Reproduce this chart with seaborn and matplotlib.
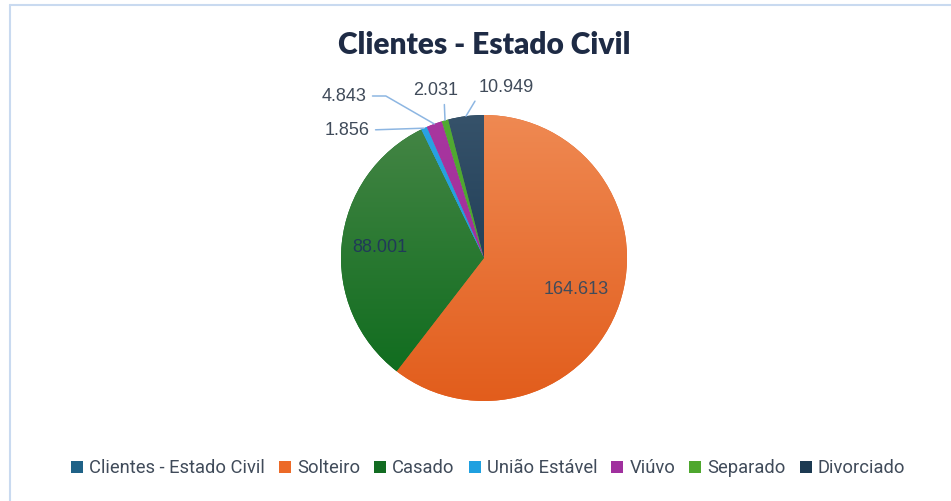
import numpy as np
import matplotlib
matplotlib.use("Agg")
import matplotlib.pyplot as plt
import seaborn as sns
from matplotlib.colors import LinearSegmentedColormap
from matplotlib.lines import Line2D

# ---- data ----
title = "Clientes - Estado Civil"
categories = ["Solteiro", "Casado", "União Estável", "Viúvo", "Separado", "Divorciado"]
values = [164613, 88001, 1856, 4843, 2031, 10949]
value_labels = ["164.613", "88.001", "1.856", "4.843", "2.031", "10.949"]
legend_first = "Clientes - Estado Civil"

# ---- style ----
top_colors = ["#EF8952", "#468646", "#2AA3E3", "#A8369F", "#52AA32", "#36526A"]
bottom_colors = ["#E25D1C", "#0B6A1B", "#1B95D6", "#9B2C98", "#47A02A", "#0F2F48"]
legend_colors = ["#1F6287", "#EC6A28", "#126C22", "#1FA0E0", "#A0309E", "#4EA72E", "#1C3A52"]

sns.set_theme(style="white")
plt.rcParams["font.family"] = ["Liberation Sans", "DejaVu Sans"]

W, H = 951, 501
fig = plt.figure(figsize=(W / 100, H / 100), dpi=100)
fig.patch.set_facecolor("white")

cx, cy, R = 484, 258, 143
ax = fig.add_axes([(cx - R) / W, (H - cy - R) / H, 2 * R / W, 2 * R / H])
ax.set_axis_off()

wedges, _ = ax.pie(values, colors=bottom_colors, startangle=90, counterclock=False,
                   radius=1, wedgeprops=dict(linewidth=0))
grad = np.linspace(0, 1, 256).reshape(-1, 1)
for w, c_top, c_bot in zip(wedges, top_colors, bottom_colors):
    cmap = LinearSegmentedColormap.from_list("g", [c_bot, c_top])
    im = ax.imshow(grad, extent=(-1, 1, -1, 1), origin="lower", cmap=cmap,
                   aspect="auto", zorder=w.get_zorder() + 0.1)
    im.set_clip_path(w)
ax.set_xlim(-1, 1)
ax.set_ylim(-1, 1)

def mid_angle(w):
    return np.deg2rad((w.theta1 + w.theta2) / 2)

label_color = "#404B5A"
inside = {0: (0.68, label_color), 1: (0.73, "#203A58")}
for i, (r, col) in inside.items():
    a = mid_angle(wedges[i])
    ax.text(r * np.cos(a), r * np.sin(a), value_labels[i], ha="center", va="center",
            fontsize=13, color=col)

def px2d(px, py):
    return ((px - cx) / R, (cy - py) / R)

line_col = "#8DB6E2"
outside = {
    2: dict(pos=px2d(347, 130), relpos=(1.0, 0.5), cs="arc3"),
    3: dict(pos=px2d(344, 96), relpos=(1.0, 0.5), cs="angle,angleA=0,angleB=150,rad=0"),
    4: dict(pos=px2d(436, 90), relpos=(0.68, 0.0), cs="arc3"),
    5: dict(pos=px2d(506, 87), relpos=(0.0, 0.0), cs="arc3"),
}
for i, o in outside.items():
    a = mid_angle(wedges[i])
    ax.annotate(value_labels[i], xy=(np.cos(a), np.sin(a)), xytext=o["pos"],
                ha="center", va="center", fontsize=13, color=label_color,
                annotation_clip=False,
                arrowprops=dict(arrowstyle="-", color=line_col, lw=1.1,
                                relpos=o["relpos"], shrinkA=2, shrinkB=0,
                                connectionstyle=o["cs"]))

fig.text(484 / W, 1 - 45 / H, title, ha="center", va="center", fontsize=21.5,
         fontweight="heavy", color="#1E2B45", family=["Lato", "DejaVu Sans"])

handles = [Line2D([], [], marker="s", linestyle="none", markersize=8,
                  markerfacecolor=c, markeredgewidth=0) for c in legend_colors]
labels = [legend_first] + categories
leg = fig.legend(handles, labels, loc="center", bbox_to_anchor=(488 / W, 1 - 468 / H),
                 ncol=7, frameon=False, handlelength=0.7, handletextpad=0.3,
                 columnspacing=0.75, prop=dict(family=["Roboto", "DejaVu Sans"], size=13.2))
for t in leg.get_texts():
    t.set_color("#404B5A")

bc = "#C9DAF0"
fig.add_artist(Line2D([10 / W, 10 / W], [0, 1 - 4.5 / H], transform=fig.transFigure, color=bc, lw=1.5))
fig.add_artist(Line2D([10 / W, 1], [1 - 4.5 / H, 1 - 4.5 / H], transform=fig.transFigure, color=bc, lw=1.5))

fig.savefig("out.png", dpi=100)
